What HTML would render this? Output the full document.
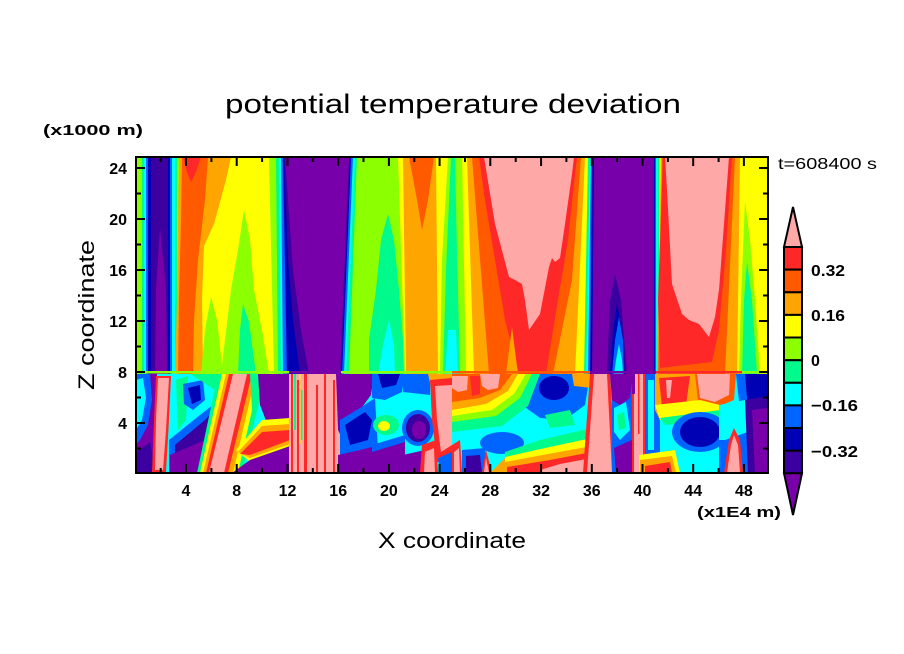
<!DOCTYPE html>
<html><head><meta charset="utf-8">
<style>
html,body{margin:0;padding:0;background:#fff;}
svg{display:block;}
.P{fill:#FFA8A8}.R{fill:#FF2828}.OR{fill:#FF5A00}.O{fill:#FFA500}.Y{fill:#FFFF00}.YG{fill:#8CFF00}.G{fill:#00FA8C}.C{fill:#00FFFF}.B{fill:#0064FF}.DB{fill:#0000B4}.I{fill:#3C00A0}.PU{fill:#7800AA}
text{font-family:"Liberation Sans",sans-serif;fill:#000}
.bl{font-weight:bold}
</style></head><body>
<svg width="904" height="654" viewBox="0 0 904 654" xmlns="http://www.w3.org/2000/svg">
<rect width="904" height="654" fill="#fff"/>
<defs><clipPath id="pc"><rect x="136" y="157" width="632" height="316"/></clipPath></defs>
<g clip-path="url(#pc)">
<!-- upper layer -->
<rect class="Y" x="136" y="157" width="632" height="217"/>
<rect class="YG" x="136" y="157" width="44" height="217"/>
<rect class="G" x="142" y="157" width="35" height="217"/>
<rect class="C" x="144" y="157" width="31" height="217"/>
<rect class="B" x="146" y="157" width="26" height="217"/>
<rect class="DB" x="148" y="157" width="22" height="217"/>
<rect class="I" x="151" y="157" width="17" height="217"/>
<polygon class="PU" points="160,228 166,290 167,374 155,374 156,290"/>
<polygon class="O" points="179,157 231,157 226,180 214,224 204,246 202,300 203,374 175,374 177,300"/>
<polygon class="OR" points="182,157 208,157 205,200 198,260 194,320 193,374 178,374 179,300 181,220"/>
<polygon class="R" points="183,157 201,157 196,172 191,182 187,172"/>
<polygon class="YG" points="244,210 250,240 254,290 262,330 269,374 221,374 225,340 231,290 238,250"/>
<polygon class="G" points="243,304 249,322 256,374 238,374 240,330"/>
<polygon class="YG" points="211,297 217,320 223,374 201,374 205,330"/>
<polygon class="YG" points="269,157 398,157 405,374 274,374"/>
<polygon class="G" points="388,214 394,240 399,290 403,340 404,374 369,374 369,340 376,290 381,240"/>
<polygon class="C" points="389,320 394,345 395,374 378,374 383,345"/>
<polygon class="G" points="276,157 357,157 349,374 278,374"/>
<polygon class="C" points="279,157 355,157 346,374 281,374"/>
<polygon class="B" points="281,157 353,157 344,374 283,374"/>
<polygon class="DB" points="283,157 351,157 342,374 287,374"/>
<polygon class="I" points="284,157 350,157 341,374 300,374 293,320 288,260"/>
<polygon class="PU" points="285,157 349,157 340,374 309,374 301,330 293,270"/>
<polygon class="O" points="403,157 436,157 438,374 406,374"/>
<polygon class="OR" points="409,157 434,157 428,200 422,230 417,200"/>
<polygon class="YG" points="448,157 462,157 466,374 440,374 442,260"/>
<polygon class="G" points="451,157 455,157 457,250 460,374 443,374 446,270"/>
<polygon class="C" points="448,330 456,330 458,374 445,374"/>
<polygon class="O" points="467,157 585,157 575,374 474,374"/>
<polygon class="OR" points="472,157 581,157 572,280 553,374 489,374"/>
<polygon class="R" points="479,157 577,157 568,240 558,300 546,374 519,374 505,320 495,260 485,200"/>
<polygon class="O" points="512,327 518,374 506,374"/>
<polygon class="P" points="484,157 574,157 572,174 565,224 560,258 555,262 552,258 549,267 540,314 529,330 525,300 522,284 515,280 509,277 495,224"/>
<polygon class="G" points="588,157 659,157 659,374 584,374"/>
<polygon class="C" points="590,157 658,157 658,374 586,374"/>
<polygon class="B" points="591,157 656,157 656,374 588,374"/>
<polygon class="DB" points="592,157 655,157 655,374 590,374"/>
<polygon class="PU" points="594,157 654,157 654,374 592,374"/>
<polygon class="I" points="615,274 621,300 627,374 607,374 610,300"/>
<polygon class="DB" points="617,304 622,330 625,374 610,374 613,330"/>
<polygon class="B" points="619,317 623,340 624,374 612,374 615,340"/>
<polygon class="C" points="619,344 622,360 623,374 614,374 616,360"/>
<polygon class="O" points="661,157 740,157 737,374 657,374"/>
<polygon class="OR" points="662,157 735,157 725,374 658,374"/>
<polygon class="R" points="663,157 732,157 726,250 719,330 712,362 660,368 658,300"/>
<polygon class="P" points="665,157 729,157 724,224 719,290 715,317 709,337 699,324 689,320 682,314 672,284 667,190"/>
<polygon class="YG" points="745,202 750,240 755,300 760,374 739,374 741,300"/>
<polygon class="G" points="747,262 752,300 757,374 742,374 744,300"/>

<!-- lower layer -->
<rect class="C" x="136" y="374" width="632" height="100"/>
<rect class="PU" x="136" y="374" width="21" height="100"/>
<polygon class="B" points="136,374 150,374 152,400 148,425 140,440 136,445"/>
<polygon class="C" points="136,380 143,378 146,398 142,420 136,430"/>
<polygon class="I" points="136,452 150,442 156,473 136,473"/>
<polygon class="R" points="156,376 171,376 169,420 166,472 152,472 154,420"/>
<polygon class="P" points="158,378 169,378 166,430 163,470 155,470 156,420"/>
<polygon class="G" points="176,380 188,376 186,420 178,430"/>
<polygon class="B" points="183,384 203,380 205,400 193,410 184,404"/>
<polygon class="DB" points="188,388 200,385 201,400 192,404"/>
<polygon class="G" points="190,374 225,374 230,395 215,390 200,380"/>
<polygon class="B" points="169,440 200,415 222,398 226,420 205,473 169,473"/>
<polygon class="I" points="175,445 205,420 220,403 222,420 200,473 175,473"/>
<polygon class="PU" points="170,455 205,440 206,473 170,473"/>
<polygon class="P" points="199,473 203,445 206,473"/>
<polygon class="G" points="197,473 242,473 266,374 218,374"/>
<polygon class="Y" points="200,473 238,473 260,374 222,374"/>
<polygon class="O" points="203,473 233,473 256,374 226,374"/>
<polygon class="R" points="206,473 228,473 252,374 229,374"/>
<polygon class="P" points="209,473 224,473 247,374 233,374"/>
<polygon class="G" points="250,374 262,374 262,400 252,410"/>
<polygon class="PU" points="258,374 290,374 290,425 284,420 280,432 275,422 270,430 265,418 260,405"/>
<polygon class="Y" points="236,450 262,420 290,418 290,448 250,462"/>
<polygon class="O" points="238,452 262,426 290,424 290,444 250,458"/>
<polygon class="R" points="240,454 262,432 290,430 290,440 250,455"/>
<polygon class="PU" points="232,473 250,460 290,446 290,473"/>
<rect class="P" x="289" y="374" width="52" height="100"/>
<rect class="R" x="291" y="374" width="2" height="100"/>
<rect class="G" x="294" y="374" width="2" height="56"/>
<rect class="R" x="297" y="380" width="2" height="93"/>
<rect class="Y" x="299.5" y="374" width="1" height="70"/>
<rect class="G" x="301" y="390" width="1.5" height="50"/>
<rect class="R" x="304" y="374" width="3" height="100"/>
<rect class="R" x="316" y="385" width="2" height="88"/>
<rect class="R" x="324" y="374" width="2" height="100"/>
<rect class="R" x="333" y="380" width="2" height="93"/>
<polygon class="PU" points="336,374 343,374 343,440 338,430"/>
<polygon class="PU" points="338,374 374,374 371,395 360,410 348,420 338,425"/>
<polygon class="B" points="340,420 360,408 375,398 378,450 340,458"/>
<polygon class="DB" points="345,425 365,412 372,420 368,440 350,445"/>
<polygon class="PU" points="338,455 360,450 380,445 380,473 338,473"/>
<polygon class="B" points="372,374 405,374 402,392 385,400 372,398"/>
<polygon class="DB" points="378,374 400,374 396,385 382,388"/>
<ellipse class="G" cx="386" cy="425" rx="13" ry="10"/>
<ellipse class="Y" cx="384" cy="426" rx="6" ry="5"/>
<polygon class="B" points="372,445 405,435 405,446 372,456"/>
<polygon class="PU" points="372,452 405,442 405,473 372,473"/>
<polygon class="B" points="403,374 430,374 430,395 403,392"/>
<ellipse class="B" cx="418" cy="428" rx="16" ry="18"/>
<ellipse class="I" cx="418" cy="428" rx="12" ry="14"/>
<ellipse class="PU" cx="419" cy="430" rx="7" ry="9"/>
<polygon class="PU" points="403,455 425,450 430,473 403,473"/>
<polygon class="O" points="428,374 452,374 452,388 432,392"/>
<polygon class="R" points="430,380 452,378 452,462 437,462 432,420"/>
<polygon class="P" points="435,386 452,385 452,445 441,452 437,420"/>
<polygon class="R" points="422,445 436,440 438,473 420,473"/>
<polygon class="P" points="425,452 434,448 435,473 424,473"/>
<polygon class="B" points="438,458 452,452 452,473 440,473"/>
<!-- K region: warm top with bands curving up -->
<polygon class="B" points="520,374 590,374 585,405 565,420 540,418 522,405"/>
<ellipse class="DB" cx="554" cy="388" rx="15" ry="12"/>
<polygon class="O" points="572,374 592,374 592,388 574,386"/>
<polygon class="OR" points="452,374 512,374 500,392 480,400 452,404"/>
<polygon class="P" points="480,374 500,374 498,388 488,390 482,386"/>
<polygon class="P" points="452,376 468,376 467,390 458,392 452,388"/>
<polygon class="R" points="470,376 480,376 480,394 472,396"/>
<polygon class="O" points="452,402 480,398 500,390 512,374 518,374 508,393 486,406 452,412"/>
<polygon class="Y" points="452,410 486,404 508,391 518,374 526,374 514,396 492,412 452,418"/>
<polygon class="YG" points="452,416 492,410 514,394 526,374 532,374 520,400 496,418 452,424"/>
<polygon class="G" points="452,422 496,416 520,398 532,374 540,374 528,406 502,426 452,432"/>
<ellipse class="B" cx="502" cy="443" rx="22" ry="11"/>
<polygon class="B" points="462,450 485,448 488,473 462,473"/>
<polygon class="I" points="466,456 480,455 482,473 466,473"/>
<polygon class="R" points="452,445 460,440 462,473 452,473"/>
<polygon class="P" points="454,452 459,448 460,473 454,473"/>
<polygon class="R" points="482,473 486,450 492,473"/>
<polygon class="P" points="484,473 486,458 489,473"/>
<polygon class="O" points="490,473 505,458 505,473"/>
<polygon class="G" points="545,415 570,410 575,425 550,428"/>
<polygon class="G" points="505,452 540,440 592,428 592,473 505,473"/>
<polygon class="Y" points="505,457 545,448 592,438 592,473 505,473"/>
<polygon class="O" points="505,462 548,454 592,446 592,473 505,473"/>
<polygon class="R" points="507,467 550,460 592,452 592,473 507,473"/>
<polygon class="P" points="540,470 560,464 592,458 592,473 540,473"/>
<polygon class="R" points="590,374 610,374 616,473 583,473"/>
<polygon class="P" points="594,374 607,374 612,473 587,473"/>
<rect class="B" x="612" y="374" width="21" height="100"/>
<polygon class="PU" points="610,374 633,374 630,398 620,405 612,400"/>
<polygon class="C" points="614,408 626,402 630,430 620,440 614,432"/>
<polygon class="G" points="617,415 624,412 626,428 619,430"/>
<polygon class="PU" points="614,448 632,440 632,473 616,473"/>
<rect class="P" x="632" y="374" width="13" height="100"/>
<rect class="R" x="632" y="374" width="2" height="100"/>
<rect class="R" x="638" y="374" width="1.5" height="60"/>
<rect class="R" x="643" y="374" width="2" height="100"/>
<rect class="PU" x="632" y="374" width="3" height="20"/>
<rect class="B" x="645" y="374" width="15" height="100"/>
<rect class="C" x="648" y="380" width="6" height="70"/>
<polygon class="O" points="655,374 700,374 696,415 660,420 655,410"/>
<polygon class="R" points="659,378 690,376 686,405 662,408"/>
<polygon class="P" points="666,380 672,380 670,398 667,398"/>
<polygon class="OR" points="695,374 736,374 734,400 715,408 698,402"/>
<polygon class="P" points="697,374 730,374 729,395 715,402 700,398"/>
<polygon class="Y" points="655,405 700,400 720,405 718,415 660,420"/>
<polygon class="G" points="660,418 720,410 722,420 665,425"/>
<ellipse class="B" cx="700" cy="432" rx="28" ry="20"/>
<ellipse class="DB" cx="700" cy="432" rx="20" ry="15"/>
<polygon class="Y" points="639,455 675,450 680,473 639,473"/>
<polygon class="O" points="640,460 672,456 676,473 640,473"/>
<polygon class="R" points="645,466 670,462 672,473 645,473"/>
<polygon class="B" points="719,405 768,400 768,473 719,473"/>
<polygon class="B" points="736,374 768,374 768,405 740,410"/>
<polygon class="C" points="719,405 745,400 748,432 725,440 719,440"/>
<polygon class="DB" points="745,374 768,374 768,405 748,410"/>
<polygon class="I" points="745,400 768,396 768,473 748,473"/>
<polygon class="PU" points="752,410 768,408 768,473 755,473"/>
<polygon class="R" points="724,473 729,440 734,428 740,440 743,473"/>
<polygon class="P" points="727,473 731,445 734,435 738,445 740,473"/>
<!-- boundary strip -->
<rect class="YG" x="136" y="371" width="153" height="2.5"/>
<rect class="PU" x="289" y="371" width="52" height="2.5"/>
<rect class="YG" x="341" y="371" width="111" height="2.5"/>
<rect class="OR" x="452" y="371" width="138" height="2.5"/>
<rect class="PU" x="590" y="371" width="66" height="2.5"/>
<rect class="R" x="656" y="371" width="86" height="2.5"/>
<rect class="YG" x="742" y="371" width="26" height="2.5"/>
</g>

<!-- frame -->
<rect x="136" y="157" width="632" height="316" fill="none" stroke="#000" stroke-width="2"/>
<path stroke="#000" stroke-width="2" fill="none" d="
M160.7 473v-5M186 473v-9M211.4 473v-5M236.7 473v-9M262.1 473v-5M287.5 473v-9M312.8 473v-5M338.2 473v-9M363.5 473v-5M388.9 473v-9M414.3 473v-5M439.6 473v-9M465 473v-5M490.3 473v-9M515.7 473v-5M541.1 473v-9M566.4 473v-5M591.8 473v-9M617.1 473v-5M642.5 473v-9M667.9 473v-5M693.2 473v-9M718.6 473v-5M743.9 473v-9
M160.7 157v5M186 157v9M211.4 157v5M236.7 157v9M262.1 157v5M287.5 157v9M312.8 157v5M338.2 157v9M363.5 157v5M388.9 157v9M414.3 157v5M439.6 157v9M465 157v5M490.3 157v9M515.7 157v5M541.1 157v9M566.4 157v5M591.8 157v9M617.1 157v5M642.5 157v9M667.9 157v5M693.2 157v9M718.6 157v5M743.9 157v9
M136 448.5h5M136 423h9M136 397.5h5M136 372h9M136 346.5h5M136 321h9M136 295.5h5M136 270h9M136 244.5h5M136 219h9M136 193.5h5M136 168h9
M768 448.5h-5M768 423h-9M768 397.5h-5M768 372h-9M768 346.5h-5M768 321h-9M768 295.5h-5M768 270h-9M768 244.5h-5M768 219h-9M768 193.5h-5M768 168h-9"/>

<!-- tick labels -->
<g class="bl" font-size="16" text-anchor="middle">
<text x="186" y="496">4</text><text x="236.7" y="496">8</text><text x="287.5" y="496">12</text><text x="338.2" y="496">16</text><text x="388.9" y="496">20</text><text x="439.6" y="496">24</text><text x="490.3" y="496">28</text><text x="541.1" y="496">32</text><text x="591.8" y="496">36</text><text x="642.5" y="496">40</text><text x="693.2" y="496">44</text><text x="743.9" y="496">48</text>
</g>
<g class="bl" font-size="16" text-anchor="end">
<text x="127" y="174">24</text><text x="127" y="225">20</text><text x="127" y="276">16</text><text x="127" y="327">12</text><text x="127" y="378">8</text><text x="127" y="429">4</text>
</g>

<!-- titles -->
<text x="225" y="113" font-size="27" textLength="456" lengthAdjust="spacingAndGlyphs">potential temperature deviation</text>
<text class="bl" x="43" y="135" font-size="15" textLength="100" lengthAdjust="spacingAndGlyphs">(x1000 m)</text>
<text x="778" y="169" font-size="16" textLength="99" lengthAdjust="spacingAndGlyphs">t=608400 s</text>
<text class="bl" x="697" y="517" font-size="15" textLength="84" lengthAdjust="spacingAndGlyphs">(x1E4 m)</text>
<text x="378" y="548" font-size="22" textLength="148" lengthAdjust="spacingAndGlyphs">X coordinate</text>
<text transform="translate(94,390) rotate(-90)" font-size="22" textLength="150" lengthAdjust="spacingAndGlyphs">Z coordinate</text>

<!-- colorbar -->
<g stroke="#000" stroke-width="2">
<polygon class="P" points="784,247 802,247 793,207"/>
<rect class="R" x="784" y="247" width="18" height="22.6"/>
<rect class="OR" x="784" y="269.6" width="18" height="22.7"/>
<rect class="O" x="784" y="292.3" width="18" height="22.6"/>
<rect class="Y" x="784" y="314.9" width="18" height="22.6"/>
<rect class="YG" x="784" y="337.5" width="18" height="22.7"/>
<rect class="G" x="784" y="360.2" width="18" height="22.6"/>
<rect class="C" x="784" y="382.8" width="18" height="22.6"/>
<rect class="B" x="784" y="405.4" width="18" height="22.6"/>
<rect class="DB" x="784" y="428" width="18" height="22.7"/>
<rect class="I" x="784" y="450.7" width="18" height="22.6"/>
<polygon class="PU" points="784,473.3 802,473.3 793,515"/>
</g>
<g class="bl" font-size="16">
<text x="811" y="276" textLength="34" lengthAdjust="spacingAndGlyphs">0.32</text>
<text x="811" y="321" textLength="34" lengthAdjust="spacingAndGlyphs">0.16</text>
<text x="811" y="366">0</text>
<text x="811" y="411" textLength="47" lengthAdjust="spacingAndGlyphs">−0.16</text>
<text x="811" y="457" textLength="47" lengthAdjust="spacingAndGlyphs">−0.32</text>
</g>
</svg>
</body></html>
